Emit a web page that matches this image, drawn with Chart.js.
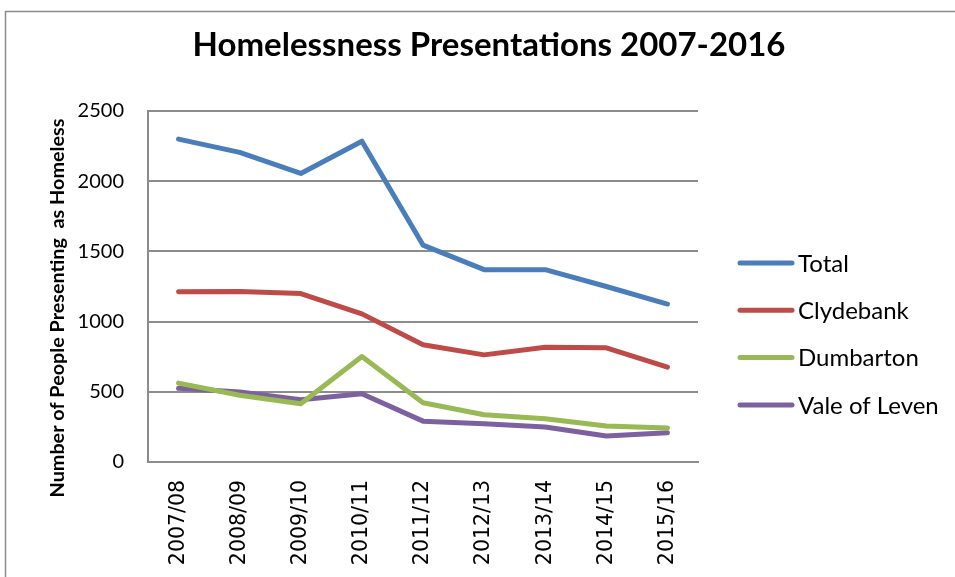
<!DOCTYPE html>
<html>
<head>
<meta charset="utf-8">
<script src="https://cdn.jsdelivr.net/npm/chart.js@4"></script>
<style>
  html, body { margin: 0; padding: 0; background: #fff; }
  #wrap { width: 955px; height: 577px; position: relative; }
</style>
</head>
<body>
<div id="wrap"><canvas id="homelessChart" width="955" height="577"></canvas></div>
<script>
// chart data
let years = ["2007/08","2008/09","2009/10","2010/11","2011/12","2012/13","2013/14","2014/15","2015/16"];
let total = [2300, 2205, 2055, 2285, 1545, 1370, 1370, 1250, 1125];
let clydebank = [1213, 1215, 1200, 1055, 835, 763, 818, 813, 675];
let dumbarton = [562, 475, 415, 751, 422, 337, 308, 256, 242];
let valeOfLeven = [525, 498, 443, 486, 291, 273, 249, 185, 209];
let yTicks = [0, 500, 1000, 1500, 2000, 2500];

let chartTitle = "Homelessness Presentations 2007-2016";
let yTitle = "Number of People Presenting  as Homeless";

function makeSet(label, data, colour){
    return {
        label: label,
        data: data,
        borderColor: colour,
        backgroundColor: colour,
        borderWidth: 5,
        pointRadius: 0,
        tension: 0,
        borderCapStyle: 'round',
        borderJoinStyle: 'round'
    };
}

// title, y axis title, legend and outer frame
let decorations = {
    id: 'decorations',
    afterDraw: function(chart){
        let ctx = chart.ctx;
        ctx.save();

        ctx.strokeStyle = '#8c8c8c';
        ctx.lineWidth = 1.5;
        ctx.strokeRect(5.5, 11.5, 1200, 1200);

        ctx.fillStyle = '#000';
        ctx.font = 'bold 33px Lato';
        ctx.textAlign = 'center';
        ctx.textBaseline = 'middle';
        ctx.fillText(chartTitle, 489, 45);

        // y title: sized so it spans about 380px like the reference
        ctx.save();
        ctx.font = 'bold 17px Lato';
        let size = 17 * 380 / ctx.measureText(yTitle).width;
        ctx.font = 'bold ' + size.toFixed(1) + 'px Lato';
        ctx.translate(58, 308);
        ctx.rotate(-Math.PI / 2);
        ctx.fillText(yTitle, 0, 0);
        ctx.restore();

        ctx.font = '24px Lato';
        ctx.textAlign = 'left';
        chart.data.datasets.forEach(function(ds, i){
            let y = 263 + i * 47.3;
            ctx.strokeStyle = ds.borderColor;
            ctx.lineWidth = 5;
            ctx.lineCap = 'round';
            ctx.beginPath();
            ctx.moveTo(740, y);
            ctx.lineTo(792, y);
            ctx.stroke();
            ctx.fillStyle = '#000';
            ctx.fillText(ds.label, 798, y + 1);
        });

        ctx.restore();
    }
};

window.onload = function(){
    let ctx = document.getElementById("homelessChart");

    new Chart(ctx, {
        type: 'line',
        data: {
            labels: years,
            datasets: [
                makeSet("Total", total, '#4a7ebb'),
                makeSet("Clydebank", clydebank, '#be4b48'),
                makeSet("Dumbarton", dumbarton, '#98b954'),
                makeSet("Vale of Leven", valeOfLeven, '#7d60a0')
            ]
        },
        options: {
            responsive: false,
            animation: false,
            layout: { padding: { left: 0, right: 257, top: 111, bottom: 0 } },
            plugins: {
                legend: { display: false },
                title: { display: false },
                tooltip: { enabled: false }
            },
            scales: {
                x: {
                    offset: true,
                    grid: { display: false, drawTicks: false },
                    border: { display: true, color: '#8c8c8c', width: 2 },
                    ticks: {
                        maxRotation: 90,
                        minRotation: 90,
                        padding: 18,
                        color: '#000',
                        font: { family: '"DejaVu Sans"', size: 20.5 }
                    },
                    afterFit: function(scale){ scale.height = 115; }
                },
                y: {
                    min: 0,
                    max: 2500,
                    afterBuildTicks: function(scale){
                        scale.ticks = yTicks.map(function(v){ return { value: v }; });
                    },
                    grid: { color: '#8c8c8c', lineWidth: 2, drawTicks: false },
                    border: { display: true, color: '#8c8c8c', width: 2 },
                    ticks: {
                        padding: 24,
                        color: '#000',
                        font: { family: 'Lato', size: 20 },
                        callback: function(v){ return String(v); }
                    },
                    afterFit: function(scale){ scale.width = 148; }
                }
            }
        },
        plugins: [decorations]
    });
};
</script>
</body>
</html>
